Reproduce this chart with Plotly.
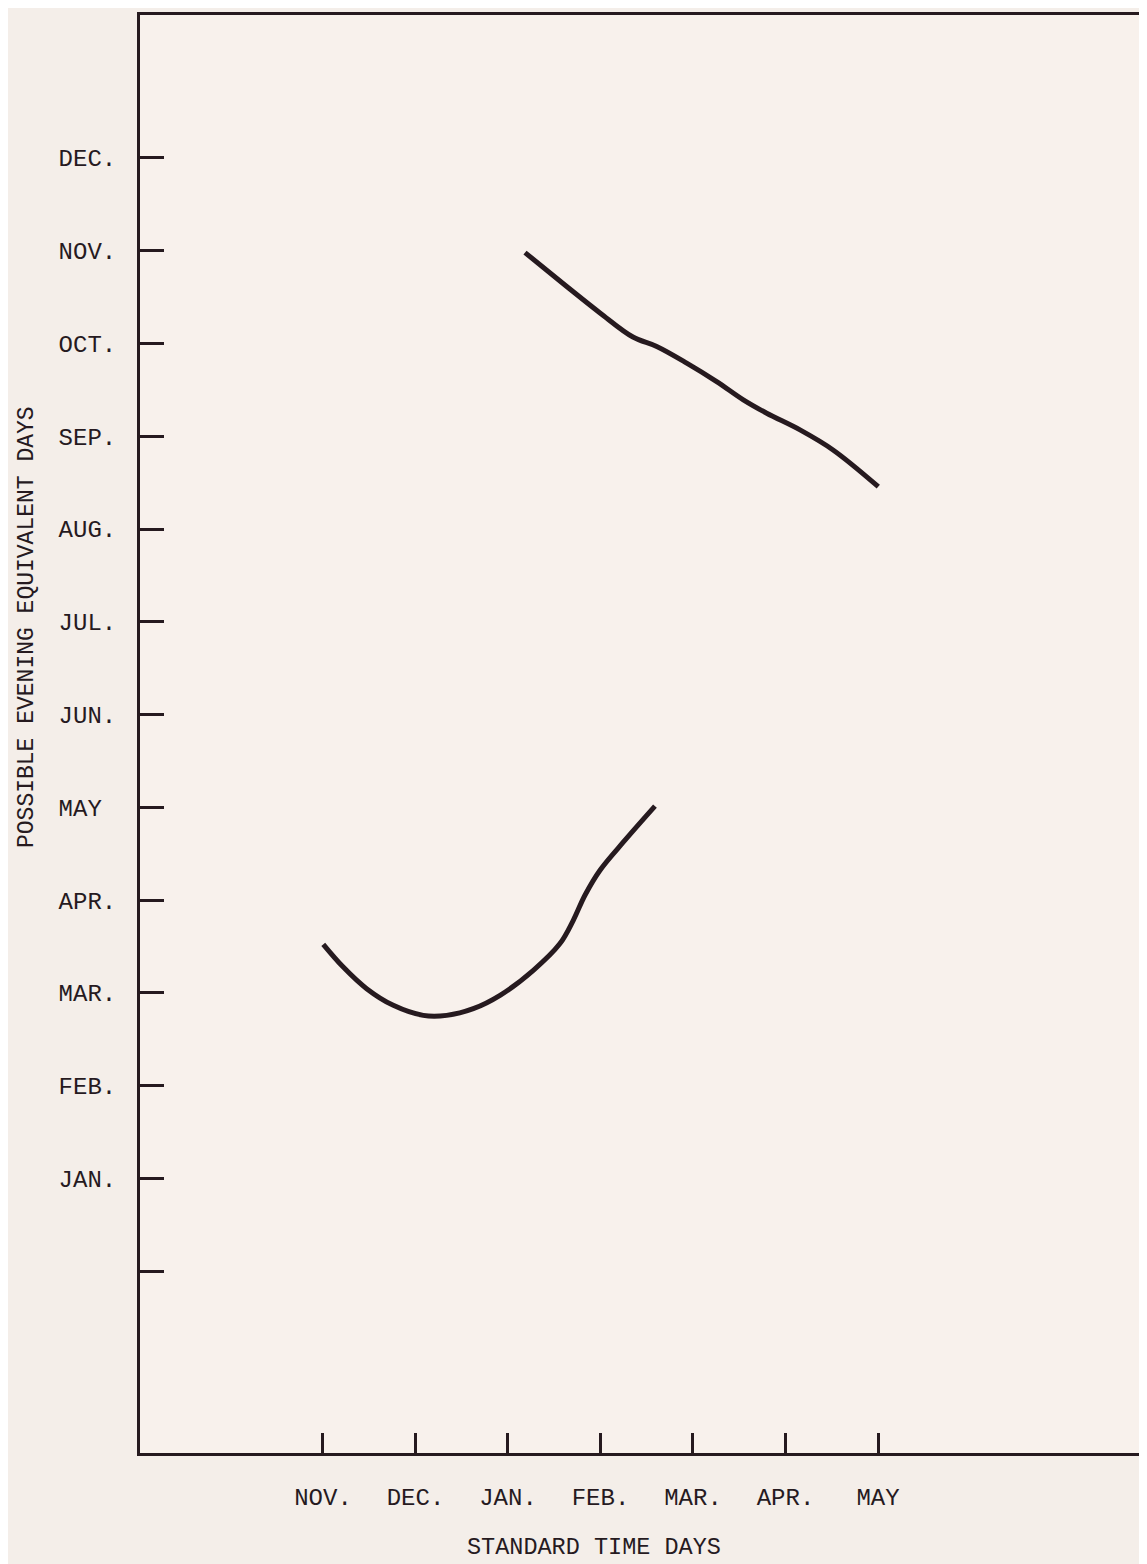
import plotly.graph_objects as go

# X axis: standard time days (month index, NOV.=0 ... MAY=6)
x_tick_vals = [0, 1, 2, 3, 4, 5, 6]
x_tick_text = ["NOV.", "DEC.", "JAN.", "FEB.", "MAR.", "APR.", "MAY"]

# Y axis: possible evening equivalent days (month number, JAN.=1 ... DEC.=12)
y_tick_vals = [0, 1, 2, 3, 4, 5, 6, 7, 8, 9, 10, 11, 12]
y_tick_text = ["", "JAN.", "FEB.", "MAR.", "APR.", "MAY\u00a0", "JUN.", "JUL.",
               "AUG.", "SEP.", "OCT.", "NOV.", "DEC."]

x_title = "STANDARD TIME DAYS"
y_title = "POSSIBLE EVENING EQUIVALENT DAYS"

# Upper curve
upper_x = [2.184, 2.635, 2.995, 3.351, 3.608, 3.932, 4.256, 4.544, 4.797, 5.157, 5.514, 6.003]
upper_y = [10.98, 10.615, 10.33, 10.07, 9.968, 9.789, 9.59, 9.393, 9.249, 9.069, 8.853, 8.457]

# Lower curve
lower_x = [0.003, 0.219, 0.472, 0.76, 1.084, 1.337, 1.625, 1.914, 2.274, 2.562, 2.706,
           2.832, 2.995, 3.265, 3.589]
lower_y = [3.524, 3.279, 3.046, 2.866, 2.758, 2.758, 2.83, 2.974, 3.244, 3.532, 3.783,
           4.053, 4.323, 4.646, 5.013]

INK = "#261a1f"
FONT = "Liberation Mono, Courier New, monospace"

fig = go.Figure()
for xs, ys in [(upper_x, upper_y), (lower_x, lower_y)]:
    fig.add_trace(go.Scatter(
        x=xs, y=ys, mode="lines",
        line=dict(color=INK, width=5, shape="spline", smoothing=1.0),
        showlegend=False, hoverinfo="skip",
    ))

fig.update_layout(
    width=1139, height=1556,
    margin=dict(l=132, r=0, t=7, b=111),
    paper_bgcolor="#f4eee9",
    plot_bgcolor="#f8f1ec",
    font=dict(family=FONT, color=INK, size=24),
    showlegend=False,
    annotations=[
        dict(text=x_title, xref="paper", yref="paper", x=0.4508, y=-0.066,
             xanchor="center", yanchor="middle", showarrow=False,
             font=dict(family=FONT, size=23.5, color=INK)),
        dict(text=y_title, xref="paper", yref="paper", x=-0.1122, y=0.5744,
             xanchor="center", yanchor="middle", showarrow=False, textangle=-90,
             font=dict(family=FONT, size=23, color=INK)),
    ],
)

fig.update_xaxes(
    range=[-1.978, 8.908],
    tickmode="array", tickvals=x_tick_vals, ticktext=x_tick_text,
    ticks="inside", ticklen=20, tickwidth=2.5, tickcolor=INK,
    showline=True, linewidth=3, linecolor=INK, mirror=True,
    showgrid=False, zeroline=False,
    tickfont=dict(family=FONT, size=24, color=INK),
    ticklabelstandoff=20,
)

fig.update_yaxes(
    range=[-1.959, 13.541],
    tickmode="array", tickvals=y_tick_vals, ticktext=y_tick_text,
    ticks="inside", ticklen=24, tickwidth=2.5, tickcolor=INK,
    showline=True, linewidth=3, linecolor=INK,
    showgrid=False, zeroline=False,
    tickfont=dict(family=FONT, size=24, color=INK),
    ticklabelstandoff=16,
)

fig.write_html("out.html")
